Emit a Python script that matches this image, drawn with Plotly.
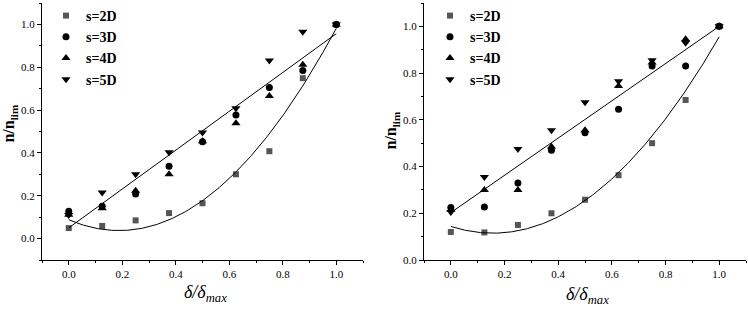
import numpy as np
import plotly.graph_objects as go

x_vals = [0.0, 0.125, 0.25, 0.375, 0.5, 0.625, 0.75, 0.875, 1.0]

# Left panel
left_2d = [0.049, 0.059, 0.085, 0.119, 0.165, 0.300, 0.408, 0.749, 1.0]
left_3d = [0.128, 0.151, 0.208, 0.338, 0.452, 0.577, 0.705, 0.785, 1.0]
left_4d = [0.111, 0.142, 0.223, 0.300, 0.455, 0.538, 0.666, 0.812, 1.0]
left_5d = [0.110, 0.215, 0.300, 0.403, 0.495, 0.608, 0.831, 0.966, 1.0]
left_linear_fit = [0.907, 0.050]   # slope, intercept

# Right panel
right_2d = [0.120, 0.118, 0.150, 0.200, 0.258, 0.363, 0.500, 0.685, 1.0]
right_3d = [0.225, 0.227, 0.330, 0.470, 0.545, 0.645, 0.830, 0.830, 1.0]
right_4d = [0.215, 0.300, 0.300, 0.485, 0.555, 0.745, 0.845, 0.945, 1.0]
right_5d = [0.205, 0.355, 0.475, 0.555, 0.675, 0.765, 0.855, 0.930, 1.0]
right_linear_fit = [0.797, 0.203]

series_names = ["s=2D", "s=3D", "s=4D", "s=5D"]
symbols = ["square", "circle", "triangle-up", "triangle-down"]
colors = ["#555555", "#000000", "#000000", "#000000"]
sizes = [6, 7, 8, 8]

x_ticks = [0.0, 0.2, 0.4, 0.6, 0.8, 1.0]
y_ticks = [0.0, 0.2, 0.4, 0.6, 0.8, 1.0]

W, H = 748, 311
ML, MR, MT, MB = 0, 0, 2, 51
PW, PH = W - ML - MR, H - MT - MB

def px_x(p):
    return (p - ML) / PW

def px_y(p):
    return 1 - (p - MT) / PH

fig = go.Figure()

panels = [
    ("x", "y", "legend", [left_2d, left_3d, left_4d, left_5d], left_linear_fit),
    ("x2", "y2", "legend2", [right_2d, right_3d, right_4d, right_5d], right_linear_fit),
]

xs = np.array(x_vals)
fine = np.linspace(0, 1, 200)
for xa, ya, lg, data, lin in panels:
    for i, (name, sym, col, sz) in enumerate(zip(series_names, symbols, colors, sizes)):
        fig.add_trace(go.Scatter(
            x=x_vals, y=data[i], mode="markers", name=name,
            marker=dict(symbol=sym, color=col, size=sz, line=dict(width=0)),
            xaxis=xa, yaxis=ya, legend=lg,
        ))
    # quadratic fit of s=2D
    c2 = np.polyfit(xs, np.array(data[0]), 2)
    fig.add_trace(go.Scatter(x=fine, y=np.polyval(c2, fine), mode="lines",
                             line=dict(color="black", width=1), showlegend=False,
                             xaxis=xa, yaxis=ya, hoverinfo="skip"))
    # linear fit line
    fig.add_trace(go.Scatter(x=[0, 1], y=np.polyval(lin, [0, 1]), mode="lines",
                             line=dict(color="black", width=1), showlegend=False,
                             xaxis=xa, yaxis=ya, hoverinfo="skip"))

tickfont = dict(family="Liberation Serif, serif", size=11, color="black")
common_x = dict(
    range=[-0.1, 1.1], tickvals=x_ticks, tickformat=".1f", ticks="outside",
    ticklen=4, tickwidth=1, tickcolor="black", showline=True, linecolor="black",
    linewidth=1, showgrid=False, zeroline=False, tickfont=tickfont,
    minor=dict(dtick=0.1, tick0=0, ticks="outside", ticklen=2, tickcolor="black"),
    automargin=False,
)
common_y = dict(
    tickvals=y_ticks, tickformat=".1f", ticks="outside",
    ticklen=4, tickwidth=1, tickcolor="black", showline=True, linecolor="black",
    linewidth=1, showgrid=False, zeroline=False, tickfont=tickfont,
    minor=dict(dtick=0.1, tick0=0, ticks="outside", ticklen=2, tickcolor="black"),
    automargin=False,
)

legfont = dict(family="Liberation Serif, serif", size=14, color="black", weight="bold")
ybot = px_y(260)
fig.update_layout(
    width=W, height=H,
    margin=dict(l=ML, r=MR, t=MT, b=MB),
    paper_bgcolor="white", plot_bgcolor="white",
    xaxis=dict(domain=[px_x(42), px_x(363)], anchor="y", **common_x),
    yaxis=dict(domain=[ybot, 1.0], anchor="x", range=[-0.1, 1.1], **common_y),
    xaxis2=dict(domain=[px_x(424), px_x(746)], anchor="y2", **common_x),
    yaxis2=dict(domain=[ybot, 1.0], anchor="x2", range=[0, 1.1], **common_y),
    legend=dict(x=px_x(46), y=px_y(0), xanchor="left", yanchor="top",
                font=legfont, bgcolor="rgba(0,0,0,0)", tracegroupgap=0),
    legend2=dict(x=px_x(430), y=px_y(-1), xanchor="left", yanchor="top",
                 font=legfont, bgcolor="rgba(0,0,0,0)", tracegroupgap=0),
    showlegend=True,
)

xt = "<i>δ/δ<sub>max</sub></i>"
yt = "<b>n/n<sub>lim</sub></b>"
for xp, yp in [(205, 294), (587, 296)]:
    fig.add_annotation(text=xt, xref="paper", yref="paper", x=px_x(xp), y=px_y(yp),
                       showarrow=False, font=dict(family="Liberation Serif, serif", size=18, color="black"),
                       xanchor="center", yanchor="middle")
for xp, yp in [(10, 123), (392, 130)]:
    fig.add_annotation(text=yt, xref="paper", yref="paper", x=px_x(xp), y=px_y(yp),
                       showarrow=False, textangle=-90,
                       font=dict(family="Liberation Serif, serif", size=16, color="black"),
                       xanchor="center", yanchor="middle")

fig.write_html("out.html", config={"displayModeBar": False},
               post_script="document.body.style.margin='0';document.body.style.overflow='hidden';")
